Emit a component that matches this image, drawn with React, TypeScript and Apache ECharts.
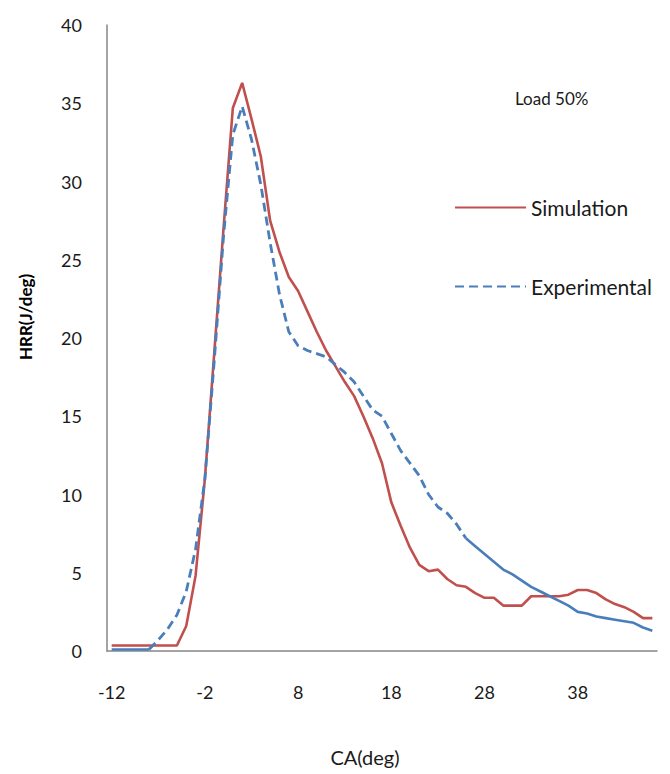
import React, { useEffect, useRef } from "react";
import * as echarts from "echarts";

const categories = [
  "-12", "-11", "-10", "-9", "-8", "-7", "-6", "-5", "-4", "-3", "-2", "-1",
  "0", "1", "2", "3", "4", "5", "6", "7", "8", "9", "10", "11", "12", "13",
  "14", "15", "16", "17", "18", "19", "20", "21", "22", "23", "24", "25",
  "26", "27", "28", "29", "30", "31", "32", "33", "34", "35", "36", "37",
  "38", "39", "40", "41", "42", "43", "44", "45", "46",
];

const simulation = [
  0.35, 0.35, 0.35, 0.35, 0.35, 0.35, 0.35, 0.35, 1.6, 4.8, 11, 19,
  27, 34.7, 36.3, 34, 31.6, 27.5, 25.5, 23.9, 23.0, 21.7, 20.4, 19.2, 18.2, 17.2,
  16.3, 15.0, 13.6, 12.0, 9.5, 8.0, 6.6, 5.5, 5.1, 5.2, 4.6, 4.2,
  4.1, 3.7, 3.4, 3.4, 2.9, 2.9, 2.9, 3.5, 3.5, 3.5, 3.5, 3.6,
  3.9, 3.9, 3.7, 3.3, 3.0, 2.8, 2.5, 2.1, 2.1,
];

const experimental = [
  0.1, 0.1, 0.1, 0.1, 0.1, 0.7, 1.4, 2.3, 3.8, 6.5, 11, 18.5,
  26.5, 33, 34.8, 32.7, 29.8, 26.1, 22.8, 20.4, 19.5, 19.2, 19.0, 18.8, 18.3, 17.8,
  17.2, 16.3, 15.4, 15.0, 13.9, 12.8, 12.0, 11.2, 10.0, 9.2, 8.8, 8.1,
  7.2, 6.7, 6.2, 5.7, 5.2, 4.9, 4.5, 4.1, 3.8, 3.5, 3.2, 2.9,
  2.5, 2.4, 2.2, 2.1, 2.0, 1.9, 1.8, 1.5, 1.3,
];

const yTicks = { min: 0, max: 40, interval: 5 };

// segments where the dashed line looks solid in the original (dense, short segments)
const dashedFrom = 4; // index of -8
const dashedTo = 38; // index of 26

const FONT = "Lato, 'Open Sans', sans-serif";
const RED = "#C0504D";
const BLUE = "#4A7EBB";

export default function App() {
  const ref = useRef<HTMLDivElement>(null);
  useEffect(() => {
    if (!ref.current) return;
    const chart = echarts.init(ref.current, undefined, { renderer: "svg" });
    const dashed = experimental.map((v, i) => (i >= dashedFrom && i <= dashedTo ? v : null));
    const solidA = experimental.map((v, i) => (i <= dashedFrom ? v : null));
    const solidB = experimental.map((v, i) => (i >= dashedTo ? v : null));
    chart.setOption({
      animation: false,
      backgroundColor: "#ffffff",
      grid: { left: 107, right: 13, top: 25, bottom: 123, containLabel: false },
      xAxis: {
        type: "category",
        data: categories,
        boundaryGap: true,
        axisLine: { show: true, lineStyle: { color: "#868686", width: 1.5 } },
        axisTick: { show: false },
        axisLabel: {
          interval: 9,
          margin: 32,
          color: "#1a1a1a",
          fontFamily: FONT,
          fontSize: 18,
        },
        splitLine: { show: false },
      },
      yAxis: {
        type: "value",
        min: yTicks.min,
        max: yTicks.max,
        interval: yTicks.interval,
        axisLine: { show: true, lineStyle: { color: "#868686", width: 1.5 } },
        axisTick: { show: false },
        axisLabel: {
          margin: 25,
          color: "#1a1a1a",
          fontFamily: FONT,
          fontSize: 18,
        },
        splitLine: { show: false },
      },
      legend: {
        data: ["Simulation", "Experimental"],
        orient: "vertical",
        left: 449,
        top: 192,
        itemWidth: 71,
        itemHeight: 20,
        itemGap: 58,
        itemStyle: { opacity: 0 },
        textStyle: {
          color: "#1a1a1a",
          fontFamily: FONT,
          fontSize: 21,
          padding: [0, 0, 0, 0],
        },
      },
      graphic: [
        {
          type: "text",
          left: 515,
          top: 90,
          style: {
            text: "Load 50%",
            fill: "#1a1a1a",
            font: `17px ${FONT}`,
          },
        },
        {
          type: "text",
          x: 25,
          y: 317,
          rotation: Math.PI / 2,
          style: {
            text: "HRR(J/deg)",
            fill: "#000000",
            font: `bold 17px ${FONT}`,
            align: "center",
            verticalAlign: "middle",
          },
        },
        {
          type: "text",
          x: 365,
          y: 757,
          style: {
            text: "CA(deg)",
            fill: "#1a1a1a",
            font: `20px ${FONT}`,
            align: "center",
            verticalAlign: "middle",
          },
        },
      ],
      series: [
        {
          name: "Simulation",
          type: "line",
          data: simulation,
          symbol: "none",
          z: 2,
          lineStyle: { color: RED, width: 2.6 },
          itemStyle: { color: RED },
        },
        {
          name: "Experimental",
          type: "line",
          data: dashed,
          symbol: "none",
          z: 3,
          lineStyle: { color: BLUE, width: 2.8, type: [9, 5] },
          itemStyle: { color: BLUE },
        },
        {
          name: "Experimental (start)",
          type: "line",
          data: solidA,
          symbol: "none",
          z: 3,
          lineStyle: { color: BLUE, width: 2.6 },
          itemStyle: { color: BLUE },
        },
        {
          name: "Experimental (tail)",
          type: "line",
          data: solidB,
          symbol: "none",
          z: 3,
          lineStyle: { color: BLUE, width: 2.6 },
          itemStyle: { color: BLUE },
        },
      ],
    });
    return () => chart.dispose();
  }, []);
  return (
    <div
      ref={ref}
      style={{ position: "fixed", left: 0, top: 0, width: 670, height: 774, background: "#fff" }}
    />
  );
}
